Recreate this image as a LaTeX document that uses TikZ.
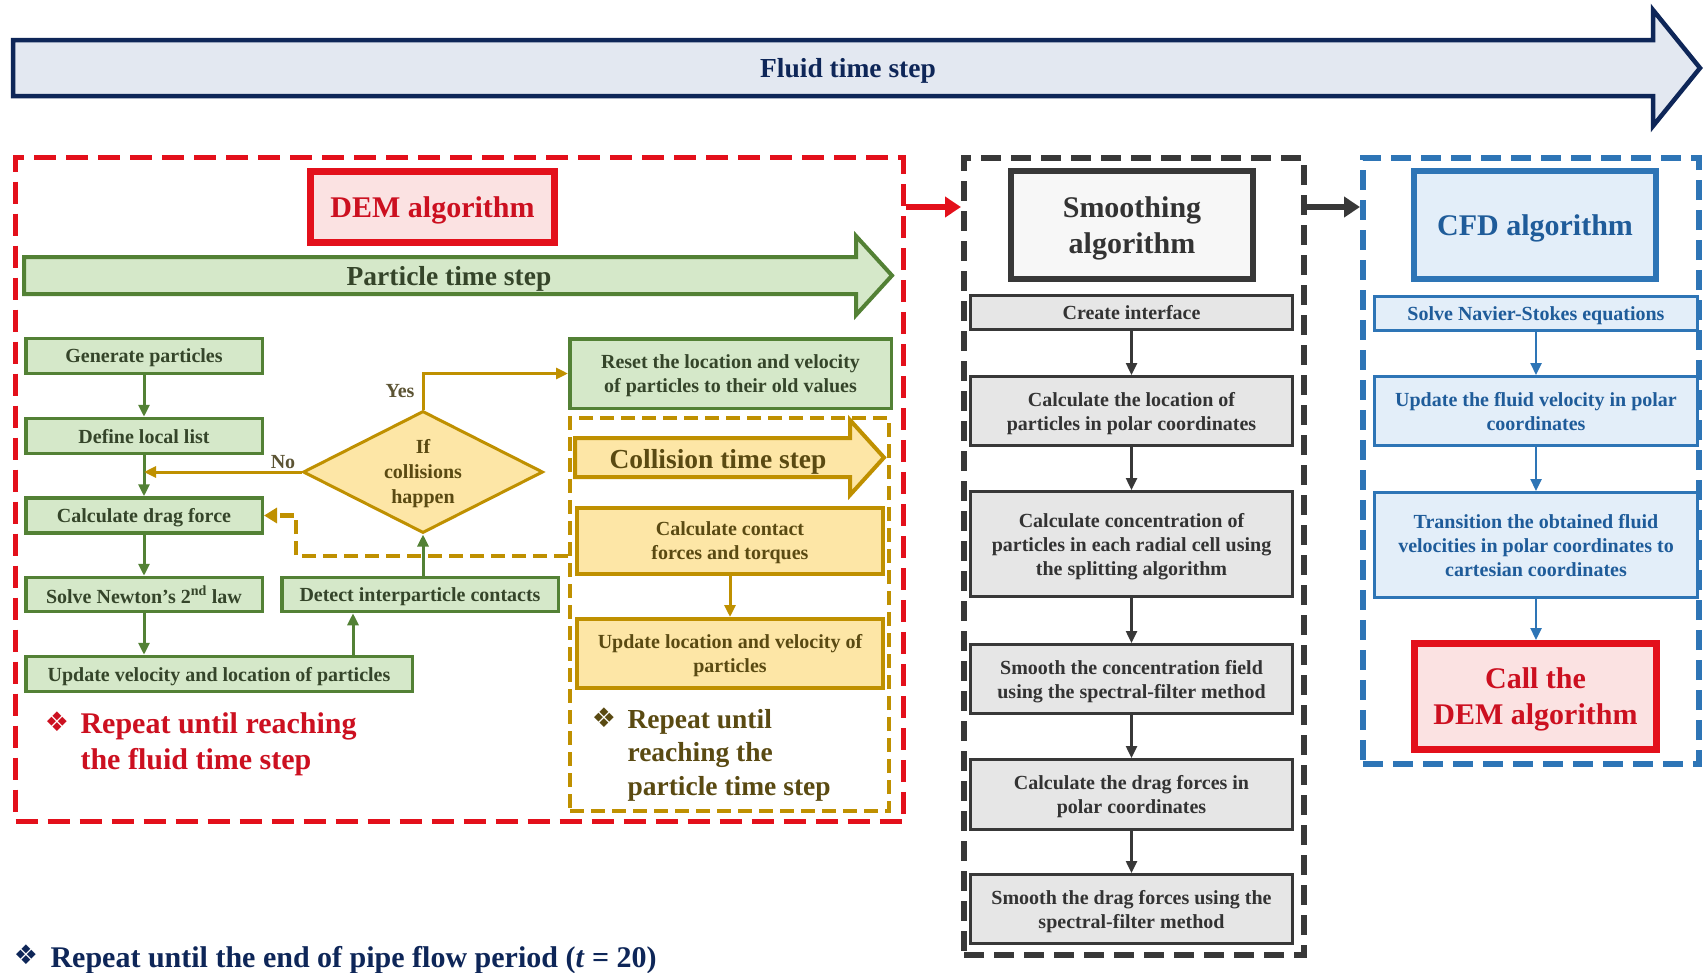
\documentclass[tikz,border=0pt]{standalone}
\usepackage{fontspec}
\setmainfont{Liberation Serif}
\newfontfamily\dingfont{DejaVu Sans}
\usetikzlibrary{arrows.meta,shapes.geometric}

\definecolor{navy}{HTML}{0E2658}
\definecolor{navyfill}{HTML}{E3E8F1}
\definecolor{demred}{HTML}{E3101B}
\definecolor{demtext}{HTML}{CC1020}
\definecolor{pinkfill}{HTML}{FBE2E2}
\definecolor{gline}{HTML}{538135}
\definecolor{gfill}{HTML}{D5E8C9}
\definecolor{gtext}{HTML}{35452A}
\definecolor{oline}{HTML}{BF9000}
\definecolor{ofill}{HTML}{FDE6A6}
\definecolor{otext}{HTML}{5A4A12}
\definecolor{olabel}{HTML}{5C5434}
\definecolor{kline}{HTML}{383838}
\definecolor{kfill}{HTML}{E6E6E6}
\definecolor{ktitle}{HTML}{F7F7F7}
\definecolor{ktext}{HTML}{333333}
\definecolor{bline}{HTML}{2E75B6}
\definecolor{bfill}{HTML}{E3EEF9}
\definecolor{btext}{HTML}{1F5C9A}

\begin{document}
\begin{tikzpicture}[x=1pt,y=-1pt,
  txt/.style={font=\fontsize{20}{24}\selectfont\bfseries, align=center, text depth=0pt},
  big/.style={font=\fontsize{30}{36}\selectfont\bfseries, align=center, text depth=0pt},
  lbl/.style={font=\fontsize{27.5}{33}\selectfont\bfseries, text depth=0pt},
  plainbox/.style={draw, rectangle, inner sep=0pt, txt},
  greenbox/.style={plainbox, draw=gline, fill=gfill, text=gtext, line width=3.5pt},
  goldbox/.style={plainbox, draw=oline, fill=ofill, text=otext, line width=4pt},
  greybox/.style={plainbox, draw=kline, fill=kfill, text=ktext, line width=3pt},
  bluebox/.style={plainbox, draw=bline, fill=bfill, text=btext, line width=3pt},
  container/.style={draw, rectangle, inner sep=0pt},
  garrow/.style={draw=gline, line width=3pt, -{Triangle[length=12pt,width=11pt]}},
  oarrow/.style={draw=oline, line width=3pt, -{Triangle[length=12pt,width=11pt]}},
  karrow/.style={draw=kline, line width=2.5pt, -{Triangle[length=12pt,width=11pt]}},
  barrow/.style={draw=bline, line width=2.5pt, -{Triangle[length=12pt,width=11pt]}},
  ylabel/.style={font=\fontsize{20}{24}\selectfont\bfseries, text=olabel},
  bullet/.style={font=\dingfont\fontsize{27}{27}\selectfont}
]
\useasboundingbox (0,0) rectangle (1705,972);

% ---------- fluid time step arrow ----------
\draw[draw=navy, fill=navyfill, line width=4.5pt]
  (13,40) -- (1653,40) -- (1653,10) -- (1700,68) -- (1653,126) -- (1653,96) -- (13,96) -- cycle;
\node[lbl, text=navy] (fluid) at (848,68) {Fluid time step};

% ---------- dashed containers ----------
\node[container, draw=demred, line width=5.5pt, dash pattern=on 22pt off 10pt,
      minimum width=888pt, minimum height=664pt] (demc) at (459.5,489.5) {};
\node[container, draw=kline, line width=6pt, dash pattern=on 20pt off 10pt,
      minimum width=340pt, minimum height=797pt] (smc) at (1134,556.5) {};
\node[container, draw=bline, line width=6pt, dash pattern=on 20pt off 10pt,
      minimum width=336pt, minimum height=606pt] (cfdc) at (1531,461) {};
\node[container, draw=oline, line width=4pt, dash pattern=on 14pt off 7pt,
      minimum width=319pt, minimum height=393pt] (colc) at (729.5,614.5) {};

% ---------- DEM part ----------
\node[plainbox, big, draw=demred, fill=pinkfill, text=demtext, line width=7pt,
      minimum width=244pt, minimum height=71pt] (demtitle) at (432.5,207) {DEM algorithm};

\draw[draw=gline, fill=gfill, line width=4pt]
  (24,257) -- (856,257) -- (856,236) -- (892,275.5) -- (856,315) -- (856,294) -- (24,294) -- cycle;
\node[lbl, text=gtext] (ptstep) at (449,276) {Particle time step};

\node[greenbox, minimum width=236.5pt, minimum height=35pt] (gen) at (144,356) {Generate particles};
\node[greenbox, minimum width=236.5pt, minimum height=35pt] (deflist) at (144,436) {Define local list};
\node[greenbox, minimum width=236.5pt, minimum height=35pt] (drag) at (144,515.5) {Calculate drag force};
\node[greenbox, minimum width=236.5pt, minimum height=34pt] (newton) at (144,594.5) {Solve Newton’s 2\textsuperscript{nd} law};
\node[greenbox, minimum width=276.5pt, minimum height=34pt] (detect) at (420,594.5) {Detect interparticle contacts};
\node[greenbox, minimum width=386.5pt, minimum height=35pt] (updvel) at (219,674) {Update velocity and location of particles};
\node[greenbox, minimum width=321.5pt, minimum height=69.5pt] (reset) at (730.5,373.5)
  {Reset the location and velocity\\of particles to their old values};

\node[diamond, draw=oline, fill=ofill, line width=3pt, inner sep=0pt,
      minimum width=240pt, minimum height=122pt] (dia) at (423,472) {};
\node[txt, text=otext, font=\fontsize{20}{25}\selectfont\bfseries] (diatext) at (423,471.5) {If\\collisions\\happen};

\draw[draw=oline, fill=ofill, line width=4pt]
  (575,438) -- (850,438) -- (850,420) -- (884,457.5) -- (850,495) -- (850,477) -- (575,477) -- cycle;
\node[lbl, text=otext] (colstep) at (718,459) {Collision time step};

\node[goldbox, minimum width=306pt, minimum height=66pt] (contact) at (730,541)
  {Calculate contact\\forces and torques};
\node[goldbox, minimum width=306pt, minimum height=69pt] (updloc) at (730,653.5)
  {Update location and velocity of\\particles};

% DEM connectors
\draw[garrow] (gen) -- (deflist);
\draw[garrow] (deflist) -- (drag);
\draw[garrow] (drag) -- (newton);
\draw[garrow] (newton.south) -- (newton.south |- updvel.north);
\coordinate (ud) at (353,0);
\draw[garrow] (ud |- updvel.north) -- (ud |- detect.south);
\draw[garrow] (dia.south |- detect.north) -- (dia.south);
\draw[oarrow] (dia.north) |- (reset.west);
\draw[oarrow] (dia.west) -- (dia.west -| deflist.south);
\draw[oarrow] (contact) -- (updloc);
\coordinate (fb) at (296,556);
\draw[draw=oline, line width=4.5pt, dash pattern=on 14pt off 7pt,
      -{Triangle[length=13pt,width=15pt]}] (fb -| colc.west) -- (fb) |- (drag.east);
\node[ylabel] (yes) at (400,391) {Yes};
\node[ylabel] (no) at (283,462) {No};

% repeat notes
\node[bullet, text=demtext] (b1) at (57,722) {❖};
\node[big, align=left, anchor=west, text=demtext] (rep1) at (77,741)
  {Repeat until reaching\\the fluid time step};
\node[bullet, text=otext] (b2) at (604,718) {❖};
\node[font=\fontsize{27.5}{33.5}\selectfont\bfseries, align=left, anchor=west, text=otext, text depth=0pt] (rep2) at (624,752)
  {Repeat until\\reaching the\\particle time step};
\node[bullet, text=navy] (b3) at (26,955) {❖};
\node[big, anchor=west, text=navy] (rep3) at (47,957)
  {Repeat until the end of pipe flow period (\textit{t} = 20)};

% ---------- smoothing part ----------
\node[plainbox, big, draw=kline, fill=ktitle, text=ktext, line width=6pt,
      minimum width=242pt, minimum height=108pt] (smtitle) at (1132,225) {Smoothing\\algorithm};
\node[greybox, minimum width=322pt, minimum height=34pt] (create) at (1131.5,312.5) {Create interface};
\node[greybox, minimum width=322pt, minimum height=69pt] (calcloc) at (1131.5,411)
  {Calculate the location of\\particles in polar coordinates};
\node[greybox, minimum width=322pt, minimum height=105pt] (conc) at (1131.5,544)
  {Calculate concentration of\\particles in each radial cell using\\the splitting algorithm};
\node[greybox, minimum width=322pt, minimum height=69pt] (smconc) at (1131.5,679)
  {Smooth the concentration field\\using the spectral-filter method};
\node[greybox, minimum width=322pt, minimum height=70pt] (dragpol) at (1131.5,794.5)
  {Calculate the drag forces in\\polar coordinates};
\node[greybox, minimum width=322pt, minimum height=69pt] (smdrag) at (1131.5,909)
  {Smooth the drag forces using the\\spectral-filter method};

\draw[karrow] (create) -- (calcloc);
\draw[karrow] (calcloc) -- (conc);
\draw[karrow] (conc) -- (smconc);
\draw[karrow] (smconc) -- (dragpol);
\draw[karrow] (dragpol) -- (smdrag);

% ---------- CFD part ----------
\node[plainbox, big, draw=bline, fill=bfill, text=btext, line width=6pt,
      minimum width=242pt, minimum height=108pt] (cfdtitle) at (1535,225) {CFD algorithm};
\node[bluebox, minimum width=323pt, minimum height=34pt] (ns) at (1536,313.5) {Solve Navier-Stokes equations};
\node[bluebox, minimum width=323pt, minimum height=69pt] (updfl) at (1536,411)
  {Update the fluid velocity in polar\\coordinates};
\node[bluebox, minimum width=323pt, minimum height=105pt] (trans) at (1536,545)
  {Transition the obtained fluid\\velocities in polar coordinates to\\cartesian coordinates};
\node[plainbox, big, draw=demred, fill=pinkfill, text=demtext, line width=7pt,
      minimum width=242pt, minimum height=106pt] (calldem) at (1535.5,696.5) {Call the\\DEM algorithm};

\draw[barrow] (ns) -- (updfl);
\draw[barrow] (updfl) -- (trans);
\draw[barrow] (trans.south) -- (trans.south |- calldem.north);

% ---------- links between the three stages ----------
\draw[draw=demred, line width=6pt, -{Triangle[length=16pt,width=20pt]}]
  (demtitle -| demc.east) -- (demtitle -| smc.west);
\draw[draw=kline, line width=6pt, -{Triangle[length=16pt,width=20pt]}]
  (demtitle -| smc.east) -- (demtitle -| cfdc.west);
\end{tikzpicture}
\end{document}
